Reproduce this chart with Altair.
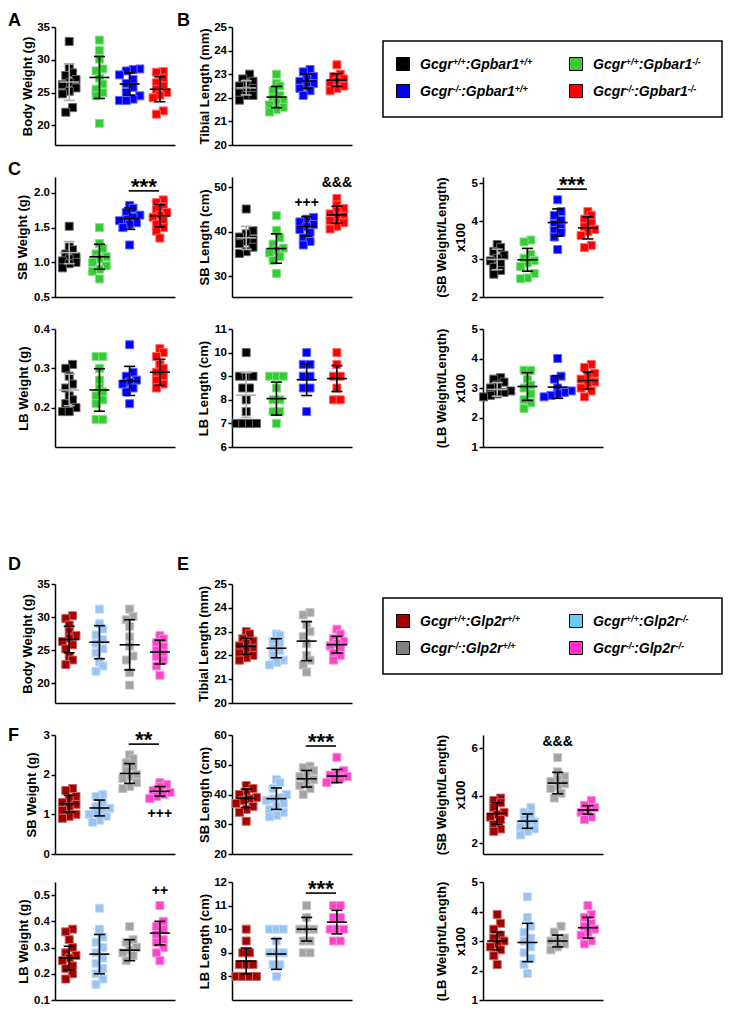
import altair as alt
import pandas as pd

FONT = "Liberation Sans"

# ================= groups and colours =================
gp_groups = ["Gcgr+/+:Gpbar1+/+", "Gcgr+/+:Gpbar1-/-", "Gcgr-/-:Gpbar1+/+", "Gcgr-/-:Gpbar1-/-"]
gp_colors = ["#000000", "#33CC33", "#0000FF", "#FF0000"]
gp_legend_colors = ["#000000", "#33CC33", "#0000FF", "#FF0000"]
gp_bar_colors = ["#B0B0B0", "#000000", "#000000", "#000000"]
gp_gene = ":Gpbar1"

gl_groups = ["Gcgr+/+:Glp2r+/+", "Gcgr+/+:Glp2r-/-", "Gcgr-/-:Glp2r+/+", "Gcgr-/-:Glp2r-/-"]
gl_colors = ["#A30000", "#99C4F2", "#A3A3A3", "#FF44CC"]
gl_legend_colors = ["#A30000", "#66CCFF", "#808080", "#FF33CC"]
gl_bar_colors = ["#000000", "#000000", "#000000", "#000000"]
gl_gene = ":Glp2r"

genotype_sups = [["+/+", "+/+"], ["+/+", "-/-"], ["-/-", "+/+"], ["-/-", "-/-"]]

# ================= Gpbar1 study (A, B, C) =================
a_bw = [[32.8, 28.7, 28.0, 27.6, 27.0, 26.5, 26.2, 25.7, 25.2, 24.8, 22.7, 22.0],
        [33.0, 31.4, 30.1, 28.6, 28.3, 27.2, 26.3, 25.5, 25.0, 24.5, 20.3],
        [28.6, 28.5, 28.3, 27.7, 27.0, 26.4, 25.8, 25.0, 24.5, 24.0, 23.8, 23.8],
        [28.2, 28.1, 27.2, 26.5, 26.0, 25.5, 25.0, 24.6, 24.2, 22.2, 21.7]]
a_bw_mean = [26.6, 27.3, 26.3, 25.5]
a_bw_sd = [2.8, 3.2, 1.7, 1.9]

b_tl = [[23.0, 22.8, 22.7, 22.6, 22.5, 22.4, 22.3, 22.2, 22.1, 22.1, 21.9],
        [23.0, 22.6, 22.5, 22.3, 22.1, 22.0, 21.9, 21.8, 21.7, 21.6, 21.5, 21.4],
        [23.2, 23.1, 22.9, 22.8, 22.7, 22.6, 22.5, 22.4, 22.3, 22.1],
        [23.4, 23.0, 22.9, 22.8, 22.7, 22.6, 22.5, 22.4, 22.3]]
b_tl_mean = [22.42, 22.03, 22.7, 22.75]
b_tl_sd = [0.3, 0.45, 0.3, 0.27]

c_sbw = [[1.52, 1.22, 1.18, 1.12, 1.08, 1.05, 1.02, 1.0, 0.98, 0.92],
         [1.50, 1.27, 1.20, 1.12, 1.08, 1.05, 1.0, 0.95, 0.90, 0.87, 0.76],
         [1.82, 1.78, 1.72, 1.68, 1.65, 1.62, 1.60, 1.57, 1.55, 1.50, 1.25],
         [1.90, 1.86, 1.80, 1.76, 1.72, 1.68, 1.65, 1.60, 1.55, 1.50, 1.45, 1.35]]
c_sbw_mean = [1.14, 1.08, 1.63, 1.67]
c_sbw_sd = [0.16, 0.18, 0.155, 0.16]

c_sbl = [[45.1, 40.2, 39.5, 38.8, 38.2, 37.8, 37.3, 36.5, 35.5, 35.1],
         [43.6, 40.3, 38.6, 37.2, 36.3, 35.8, 35.2, 34.4, 33.5, 30.6],
         [43.2, 42.8, 42.2, 41.6, 41.1, 40.5, 39.8, 38.6, 37.8, 37.0],
         [47.5, 46.0, 45.2, 44.6, 44.0, 43.5, 43.0, 42.5, 42.0, 41.2, 40.6]]
c_sbl_mean = [38.6, 36.2, 41.2, 43.8]
c_sbl_sd = [2.6, 3.3, 2.2, 1.9]

c_sbr = [[3.38, 3.30, 3.20, 3.10, 3.02, 2.95, 2.88, 2.78, 2.70, 2.60],
         [3.50, 3.45, 3.12, 3.02, 2.96, 2.90, 2.80, 2.62, 2.50, 2.48],
         [4.56, 4.25, 4.15, 4.02, 3.92, 3.82, 3.75, 3.70, 3.58, 3.25],
         [4.25, 4.15, 4.05, 3.95, 3.85, 3.78, 3.72, 3.62, 3.36, 3.30]]
c_sbr_mean = [2.99, 2.98, 3.96, 3.82]
c_sbr_sd = [0.27, 0.3, 0.36, 0.29]

c_lbw = [[0.31, 0.30, 0.28, 0.26, 0.25, 0.23, 0.22, 0.21, 0.20, 0.19, 0.19],
         [0.33, 0.33, 0.30, 0.27, 0.25, 0.24, 0.23, 0.22, 0.21, 0.17, 0.17],
         [0.36, 0.29, 0.28, 0.27, 0.265, 0.26, 0.25, 0.24, 0.21],
         [0.35, 0.34, 0.33, 0.31, 0.30, 0.29, 0.28, 0.27, 0.26, 0.25]]
c_lbw_mean = [0.245, 0.245, 0.268, 0.29]
c_lbw_sd = [0.04, 0.054, 0.037, 0.033]

c_lbl = [[10, 9, 9, 9, 8.5, 8.5, 8, 7.5, 7, 7, 7, 7],
         [9, 9, 9, 8.5, 8, 8, 7.5, 7.5, 7],
         [10, 9.5, 9.5, 9, 9, 8.5, 8.5, 7.5],
         [10, 9.5, 9, 9, 8.5, 8, 8]]
c_lbl_mean = [8.2, 8.05, 8.85, 8.9]
c_lbl_sd = [0.95, 0.7, 0.67, 0.55]

c_lbr = [[3.35, 3.3, 3.2, 3.1, 3.0, 2.9, 2.85, 2.8, 2.75, 2.7],
         [3.6, 3.6, 3.3, 3.1, 3.0, 2.8, 2.6, 2.5, 2.3],
         [4.0, 3.4, 3.3, 3.0, 2.9, 2.85, 2.8, 2.75, 2.7],
         [3.8, 3.7, 3.5, 3.4, 3.3, 3.2, 3.1, 3.0, 2.9, 2.7]]
c_lbr_mean = [2.95, 3.05, 3.03, 3.25]
c_lbr_sd = [0.23, 0.47, 0.38, 0.29]

# ================= Glp2r study (D, E, F) =================
d_bw = [[30.2, 29.8, 28.8, 27.8, 27.2, 26.8, 26.3, 25.8, 25.2, 24.0, 23.5, 22.8],
        [31.2, 29.0, 28.2, 27.3, 26.6, 26.0, 25.2, 24.6, 23.2, 22.6, 21.8],
        [31.2, 30.1, 29.6, 28.6, 27.0, 25.6, 24.1, 23.5, 21.6, 19.7],
        [27.2, 26.7, 26.1, 25.5, 25.0, 24.5, 24.0, 23.5, 22.6, 21.2]]
d_bw_mean = [26.6, 26.2, 25.8, 24.7]
d_bw_sd = [2.0, 2.5, 3.8, 1.8]

e_tl = [[23.0, 22.9, 22.7, 22.6, 22.5, 22.4, 22.3, 22.2, 22.1, 22.0, 21.9, 21.8],
        [22.9, 22.85, 22.6, 22.5, 22.3, 22.2, 22.0, 21.8, 21.7, 21.6],
        [23.8, 23.7, 23.3, 23.0, 22.8, 22.5, 22.0, 21.8, 21.6, 21.3],
        [23.1, 22.9, 22.7, 22.6, 22.5, 22.4, 22.3, 22.1, 22.0, 21.8]]
e_tl_mean = [22.38, 22.3, 22.6, 22.45]
e_tl_sd = [0.33, 0.4, 0.82, 0.35]

f_sbw = [[1.65, 1.6, 1.45, 1.4, 1.3, 1.25, 1.2, 1.1, 1.0, 0.95, 0.9],
         [1.5, 1.45, 1.3, 1.2, 1.15, 1.1, 1.05, 1.0, 0.95, 0.85, 0.8],
         [2.5, 2.4, 2.3, 2.2, 2.1, 2.0, 1.95, 1.9, 1.8, 1.7, 1.65],
         [1.8, 1.75, 1.7, 1.6, 1.55, 1.5, 1.45, 1.4]]
f_sbw_mean = [1.27, 1.16, 2.03, 1.58]
f_sbw_sd = [0.21, 0.2, 0.25, 0.12]

f_sbl = [[43, 42, 41, 40, 39, 38.5, 38, 37, 36, 35, 34, 31],
         [45, 44, 42, 40, 39, 38.5, 38, 37, 36, 35, 34, 33, 32.5],
         [49.5, 49, 48, 47, 46, 45, 44, 43, 42, 40],
         [52.5, 48, 47, 46.5, 46, 45.5, 45, 44]]
f_sbl_mean = [38.7, 38.6, 45.3, 46.2]
f_sbl_sd = [3.1, 3.6, 2.8, 2.2]

f_sbr = [[3.9, 3.8, 3.7, 3.5, 3.3, 3.2, 3.1, 3.0, 2.8, 2.6, 2.5],
         [3.5, 3.3, 3.2, 3.0, 2.9, 2.8, 2.7, 2.6, 2.5, 2.35],
         [5.6, 5.0, 4.8, 4.7, 4.6, 4.5, 4.4, 4.3, 4.1, 3.9],
         [3.8, 3.6, 3.5, 3.4, 3.3, 3.1, 3.0]]
f_sbr_mean = [3.25, 2.93, 4.53, 3.4]
f_sbr_sd = [0.45, 0.3, 0.45, 0.18]

f_lbw = [[0.37, 0.36, 0.33, 0.30, 0.28, 0.27, 0.26, 0.25, 0.23, 0.22, 0.20, 0.18],
         [0.45, 0.37, 0.34, 0.32, 0.30, 0.28, 0.26, 0.24, 0.22, 0.20, 0.18, 0.16],
         [0.38, 0.33, 0.32, 0.30, 0.29, 0.28, 0.27, 0.25],
         [0.46, 0.40, 0.38, 0.37, 0.35, 0.33, 0.32, 0.30, 0.28, 0.25]]
f_lbw_mean = [0.26, 0.275, 0.29, 0.355]
f_lbw_sd = [0.045, 0.075, 0.04, 0.045]

f_lbl = [[10, 9.5, 9, 9, 8.5, 8.5, 8.5, 8, 8, 8, 8],
         [10, 10, 10, 9.5, 9, 9, 9, 8.5, 8.5, 8],
         [11, 10.5, 10, 10, 10, 9.5, 9.5, 9, 9],
         [11, 11, 10.5, 10.5, 10, 10, 10, 9.5, 9.5]]
f_lbl_mean = [8.65, 8.95, 10.0, 10.3]
f_lbl_sd = [0.55, 0.65, 0.5, 0.5]

f_lbr = [[3.9, 3.6, 3.4, 3.2, 3.1, 3.0, 2.9, 2.8, 2.7, 2.5, 2.2],
         [4.5, 3.8, 3.5, 3.3, 3.1, 3.0, 2.8, 2.6, 2.4, 2.2, 1.9],
         [3.5, 3.3, 3.1, 3.0, 3.0, 2.9, 2.8, 2.7],
         [4.2, 3.9, 3.8, 3.6, 3.5, 3.4, 3.3, 3.2, 3.0, 2.9]]
f_lbr_mean = [3.0, 2.95, 3.0, 3.45]
f_lbr_sd = [0.3, 0.65, 0.2, 0.35]

# significance annotations: (x1, x2, y, text) for bars; (x, y, text) for marks
c_sbw_bars = [(2.97, 3.97, 2.03, "***")]
c_sbl_marks = [(3, 46.4, "+++"), (4, 50.9, "&&&")]
c_sbr_bars = [(2.97, 3.97, 4.84, "***")]
f_sbw_bars = [(2.97, 3.97, 2.77, "**")]
f_sbw_marks = [(4, 1.0, "+++")]
f_sbl_bars = [(2.97, 3.97, 56.3, "***")]
f_sbr_marks = [(3, 6.25, "&&&")]
f_lbw_marks = [(4, 0.515, "++")]
f_lbl_bars = [(2.97, 3.97, 11.53, "***")]

# ================= layout helpers =================
XDOM = [0.53, 4.5]
PW = 120
UNIT = PW / (XDOM[1] - XDOM[0])
SQ = 8.0


def tint(hx, f):
    hx = hx.lstrip("#")
    r, g, b = int(hx[0:2], 16), int(hx[2:4], 16), int(hx[4:6], 16)
    r, g, b = [int(c + (255 - c) * f) for c in (r, g, b)]
    return "#%02x%02x%02x" % (r, g, b)


def swarm(vals, ppu):
    order = sorted(range(len(vals)), key=lambda i: vals[i])
    rows = []
    for i in order:
        if rows and (vals[i] - vals[rows[-1][0]]) * ppu < SQ * 0.8:
            rows[-1].append(i)
        else:
            rows.append([i])
    offs = [0.0] * len(vals)
    for r in rows:
        n = len(r)
        for k, i in enumerate(r):
            offs[i] = (k - (n - 1) / 2) * SQ * 0.85
    return offs


def panel(vals, means, sds, groups, colors, barcols, dom, ticks, fmt, title, tx, h,
          bars=None, marks=None, letter=None, anchor=False):
    ppu = h / (dom[1] - dom[0])
    recs = []
    for g, gv in enumerate(vals):
        for v, o in zip(gv, swarm(gv, ppu)):
            recs.append({"grp": groups[g], "xp": g + 1 + o / UNIT, "val": v,
                         "fc": colors[g], "sc": tint(colors[g], 0.4)})
    pts_df = pd.DataFrame(recs)
    xs = alt.Scale(domain=XDOM, nice=False, zero=False)
    ys = alt.Scale(domain=dom, nice=False, zero=False)
    xax = alt.Axis(labels=False, ticks=False, title=None, grid=False)
    yax = alt.Axis(values=ticks, format=fmt, title=title, titleX=tx, titleBaseline="middle",
                   titleLineHeight=19, grid=False)

    def X(f):
        return alt.X(f, scale=xs, axis=xax)

    def Y(f):
        return alt.Y(f, scale=ys, axis=yax)

    pts = alt.Chart(pts_df).mark_square(size=SQ * SQ, filled=True, opacity=1, strokeWidth=1).encode(
        x=X("xp:Q"), y=Y("val:Q"),
        fill=alt.Fill("fc:N", scale=None),
        stroke=alt.Stroke("sc:N", scale=None))
    sdf = pd.DataFrame({"g": [1, 2, 3, 4], "m": means, "sd": sds, "c": barcols})
    sdf["lo"] = sdf.m - sdf.sd
    sdf["hi"] = sdf.m + sdf.sd
    sdf["ml"] = sdf.g - 10 / UNIT
    sdf["mr"] = sdf.g + 10 / UNIT
    sdf["cl"] = sdf.g - 5.5 / UNIT
    sdf["cr"] = sdf.g + 5.5 / UNIT
    sb = alt.Chart(sdf)
    col = alt.Color("c:N", scale=None)
    layers = [
        pts,
        sb.mark_rule(strokeWidth=1.6).encode(x=X("ml:Q"), x2="mr:Q", y=Y("m:Q"), color=col),
        sb.mark_rule(strokeWidth=1.6).encode(x=X("g:Q"), y=Y("lo:Q"), y2="hi:Q", color=col),
        sb.mark_rule(strokeWidth=1.6).encode(x=X("cl:Q"), x2="cr:Q", y=Y("hi:Q"), color=col),
        sb.mark_rule(strokeWidth=1.6).encode(x=X("cl:Q"), x2="cr:Q", y=Y("lo:Q"), color=col),
    ]
    if bars:
        bdf = pd.DataFrame(bars, columns=["x1", "x2", "y", "t"])
        bdf["xm"] = (bdf.x1 + bdf.x2) / 2
        bb = alt.Chart(bdf)
        layers.append(bb.mark_rule(strokeWidth=1.6, color="black").encode(
            x=X("x1:Q"), x2="x2:Q", y=Y("y:Q")))
        layers.append(bb.mark_text(font=FONT, fontSize=22, fontWeight="bold", baseline="alphabetic",
                                   dy=3, color="black").encode(x=X("xm:Q"), y=Y("y:Q"), text="t:N"))
    if marks:
        mdf = pd.DataFrame(marks, columns=["x", "y", "t"])
        layers.append(alt.Chart(mdf).mark_text(font=FONT, fontSize=14, fontWeight="bold",
                                               baseline="middle", color="black").encode(
            x=X("x:Q"), y=Y("y:Q"), text="t:N"))
    if letter:
        t, lx, ly = letter
        layers.append(alt.Chart(pd.DataFrame({"t": [t]})).mark_text(
            font=FONT, fontSize=18, fontWeight="bold", align="left", baseline="top", color="black"
        ).encode(x=alt.value(lx), y=alt.value(ly), text="t:N"))
    if anchor:
        # invisible anchor fixing the top-left corner of the whole figure
        layers.append(alt.Chart(pd.DataFrame({"z": [0]})).mark_point(opacity=0, size=0).encode(
            x=alt.value(-47), y=alt.value(-19)))
    return alt.layer(*layers).properties(width=PW, height=h)


AW = {"G": 778, "c": 556, "g": 611, "r": 389, "p": 611, "b": 611, "a": 556, "1": 556,
      "l": 278, "2": 556, ":": 333, "+": 584, "/": 278, "-": 333}


def tw(s, fs):
    return sum(AW[ch] for ch in s) * fs / 1000.0


def legend(colors, gene, h):
    sq_x = [-80, 93, -80, 93]
    row_y = [37, 37, 64, 64]
    txt_x = [-63, 110, -63, 110]
    sq = pd.DataFrame({"px": sq_x, "py": row_y, "c": colors})
    pieces = []
    for i, (s1, s2) in enumerate(genotype_sups):
        x = txt_x[i]
        yb = row_y[i] + 5
        ysup = row_y[i] + 0.5
        pieces.append((x, yb, "Gcgr", 14)); x += tw("Gcgr", 14)
        pieces.append((x, ysup, s1, 9)); x += tw(s1, 9)
        pieces.append((x, yb, gene, 14)); x += tw(gene, 14)
        pieces.append((x, ysup, s2, 9))
    pdf = pd.DataFrame(pieces, columns=["px", "py", "t", "fs"])
    box = alt.Chart(pd.DataFrame({"z": [0]})).mark_rect(
        fill="white", fillOpacity=0, stroke="black", strokeWidth=1.5
    ).encode(x=alt.value(-100), x2=alt.value(239), y=alt.value(14), y2=alt.value(90))
    sqs = alt.Chart(sq).mark_square(size=169, filled=True, opacity=1, stroke="black", strokeWidth=1).encode(
        x=alt.X("px:Q", scale=None, axis=None), y=alt.Y("py:Q", scale=None, axis=None),
        fill=alt.Fill("c:N", scale=None))
    txt = alt.Chart(pdf).mark_text(font=FONT, fontWeight="bold", fontStyle="italic", align="left",
                                   baseline="alphabetic", color="black").encode(
        x=alt.X("px:Q", scale=None, axis=None), y=alt.Y("py:Q", scale=None, axis=None),
        text="t:N", size=alt.Size("fs:Q", scale=None))
    return alt.layer(box, sqs, txt).properties(width=PW, height=h)


def blank(w, h):
    return alt.Chart(pd.DataFrame({"z": [0]})).mark_point(opacity=0, size=0).encode(
        x=alt.value(0), y=alt.value(0)).properties(width=w, height=h)


def row(c1, c2, c3, h):
    return [c1, blank(57, h), c2, blank(131, h), c3]


def spacer(h):
    return [blank(1, h) for _ in range(5)]


GP = dict(groups=gp_groups, colors=gp_colors, barcols=gp_bar_colors)
GL = dict(groups=gl_groups, colors=gl_colors, barcols=gl_bar_colors)
R3 = -41.5  # first line of the two-line ratio titles

cells = []
# ---- row 1: A, B, legend
h = 118
cells += row(
    panel(a_bw, a_bw_mean, a_bw_sd, dom=[17, 35], ticks=[20, 25, 30, 35], fmt="d",
          title="Body Weight (g)", tx=-27.5, h=h, letter=("A", -47, -15), anchor=True, **GP),
    panel(b_tl, b_tl_mean, b_tl_sd, dom=[20, 25], ticks=[20, 21, 22, 23, 24, 25], fmt="d",
          title="Tibial Length (mm)", tx=-28, h=h, letter=("B", -55, -15), **GP),
    legend(gp_legend_colors, gp_gene, h), h)
cells += spacer(32)
# ---- row 2: C (SB)
h = 120
cells += row(
    panel(c_sbw, c_sbw_mean, c_sbw_sd, dom=[0.5, 2.23], ticks=[0.5, 1.0, 1.5, 2.0], fmt=".1f",
          title="SB Weight (g)", tx=-33, h=h, bars=c_sbw_bars, letter=("C", -47, -16), **GP),
    panel(c_sbl, c_sbl_mean, c_sbl_sd, dom=[25.3, 52.3], ticks=[30, 40, 50], fmt="d",
          title="SB Length (cm)", tx=-28, h=h, marks=c_sbl_marks, **GP),
    panel(c_sbr, c_sbr_mean, c_sbr_sd, dom=[2, 5.16], ticks=[2, 3, 4, 5], fmt="d",
          title=["(SB Weight/Length)", "x100"], tx=R3, h=h, bars=c_sbr_bars, **GP), h)
cells += spacer(32)
# ---- row 3: C (LB)
h = 118
cells += row(
    panel(c_lbw, c_lbw_mean, c_lbw_sd, dom=[0.1, 0.4], ticks=[0.2, 0.3, 0.4], fmt=".1f",
          title="LB Weight (g)", tx=-32, h=h, **GP),
    panel(c_lbl, c_lbl_mean, c_lbl_sd, dom=[6, 11], ticks=[6, 7, 8, 9, 10, 11], fmt="d",
          title="LB Length (cm)", tx=-29, h=h, **GP),
    panel(c_lbr, c_lbr_mean, c_lbr_sd, dom=[1, 5], ticks=[1, 2, 3, 4, 5], fmt="d",
          title=["(LB Weight/Length)", "x100"], tx=R3, h=h, **GP), h)
cells += spacer(137)
# ---- row 4: D, E, legend
h = 119
cells += row(
    panel(d_bw, d_bw_mean, d_bw_sd, dom=[17, 35], ticks=[20, 25, 30, 35], fmt="d",
          title="Body Weight (g)", tx=-28, h=h, letter=("D", -47, -28), **GL),
    panel(e_tl, e_tl_mean, e_tl_sd, dom=[20, 25], ticks=[20, 21, 22, 23, 24, 25], fmt="d",
          title="Tibial Length (mm)", tx=-29, h=h, letter=("E", -55, -28), **GL),
    legend(gl_legend_colors, gl_gene, h), h)
cells += spacer(32)
# ---- row 5: F (SB)
h = 119
cells += row(
    panel(f_sbw, f_sbw_mean, f_sbw_sd, dom=[0, 3], ticks=[0, 1, 2, 3], fmt="d",
          title="SB Weight (g)", tx=-24, h=h, bars=f_sbw_bars, marks=f_sbw_marks,
          letter=("F", -47, -8), **GL),
    panel(f_sbl, f_sbl_mean, f_sbl_sd, dom=[20, 60], ticks=[20, 30, 40, 50, 60], fmt="d",
          title="SB Length (cm)", tx=-27.5, h=h, bars=f_sbl_bars, **GL),
    panel(f_sbr, f_sbr_mean, f_sbr_sd, dom=[1.55, 6.55], ticks=[2, 4, 6], fmt="d",
          title=["(SB Weight/Length)", "x100"], tx=R3, h=h, marks=f_sbr_marks, **GL), h)
cells += spacer(28)
# ---- row 6: F (LB)
h = 118
cells += row(
    panel(f_lbw, f_lbw_mean, f_lbw_sd, dom=[0.1, 0.55], ticks=[0.1, 0.2, 0.3, 0.4, 0.5], fmt=".1f",
          title="LB Weight (g)", tx=-32, h=h, marks=f_lbw_marks, **GL),
    panel(f_lbl, f_lbl_mean, f_lbl_sd, dom=[7, 12], ticks=[8, 9, 10, 11, 12], fmt="d",
          title="LB Length (cm)", tx=-28, h=h, bars=f_lbl_bars, **GL),
    panel(f_lbr, f_lbr_mean, f_lbr_sd, dom=[1, 5], ticks=[1, 2, 3, 4, 5], fmt="d",
          title=["(LB Weight/Length)", "x100"], tx=R3, h=h, **GL), h)

chart = alt.concat(*cells, columns=5, spacing=0, bounds="flush", padding=0).configure_view(
    stroke=None
).configure_axis(
    labelFont=FONT, labelFontSize=11.5, labelFontWeight="bold", labelColor="black",
    titleFont=FONT, titleFontSize=13, titleFontWeight="bold", titleColor="black",
    domainColor="black", domainWidth=1.5, tickColor="black", tickWidth=1.5, tickSize=4,
    labelPadding=1.5, grid=False
)

chart.save("out.html", embed_options={"renderer": "svg", "actions": False})
